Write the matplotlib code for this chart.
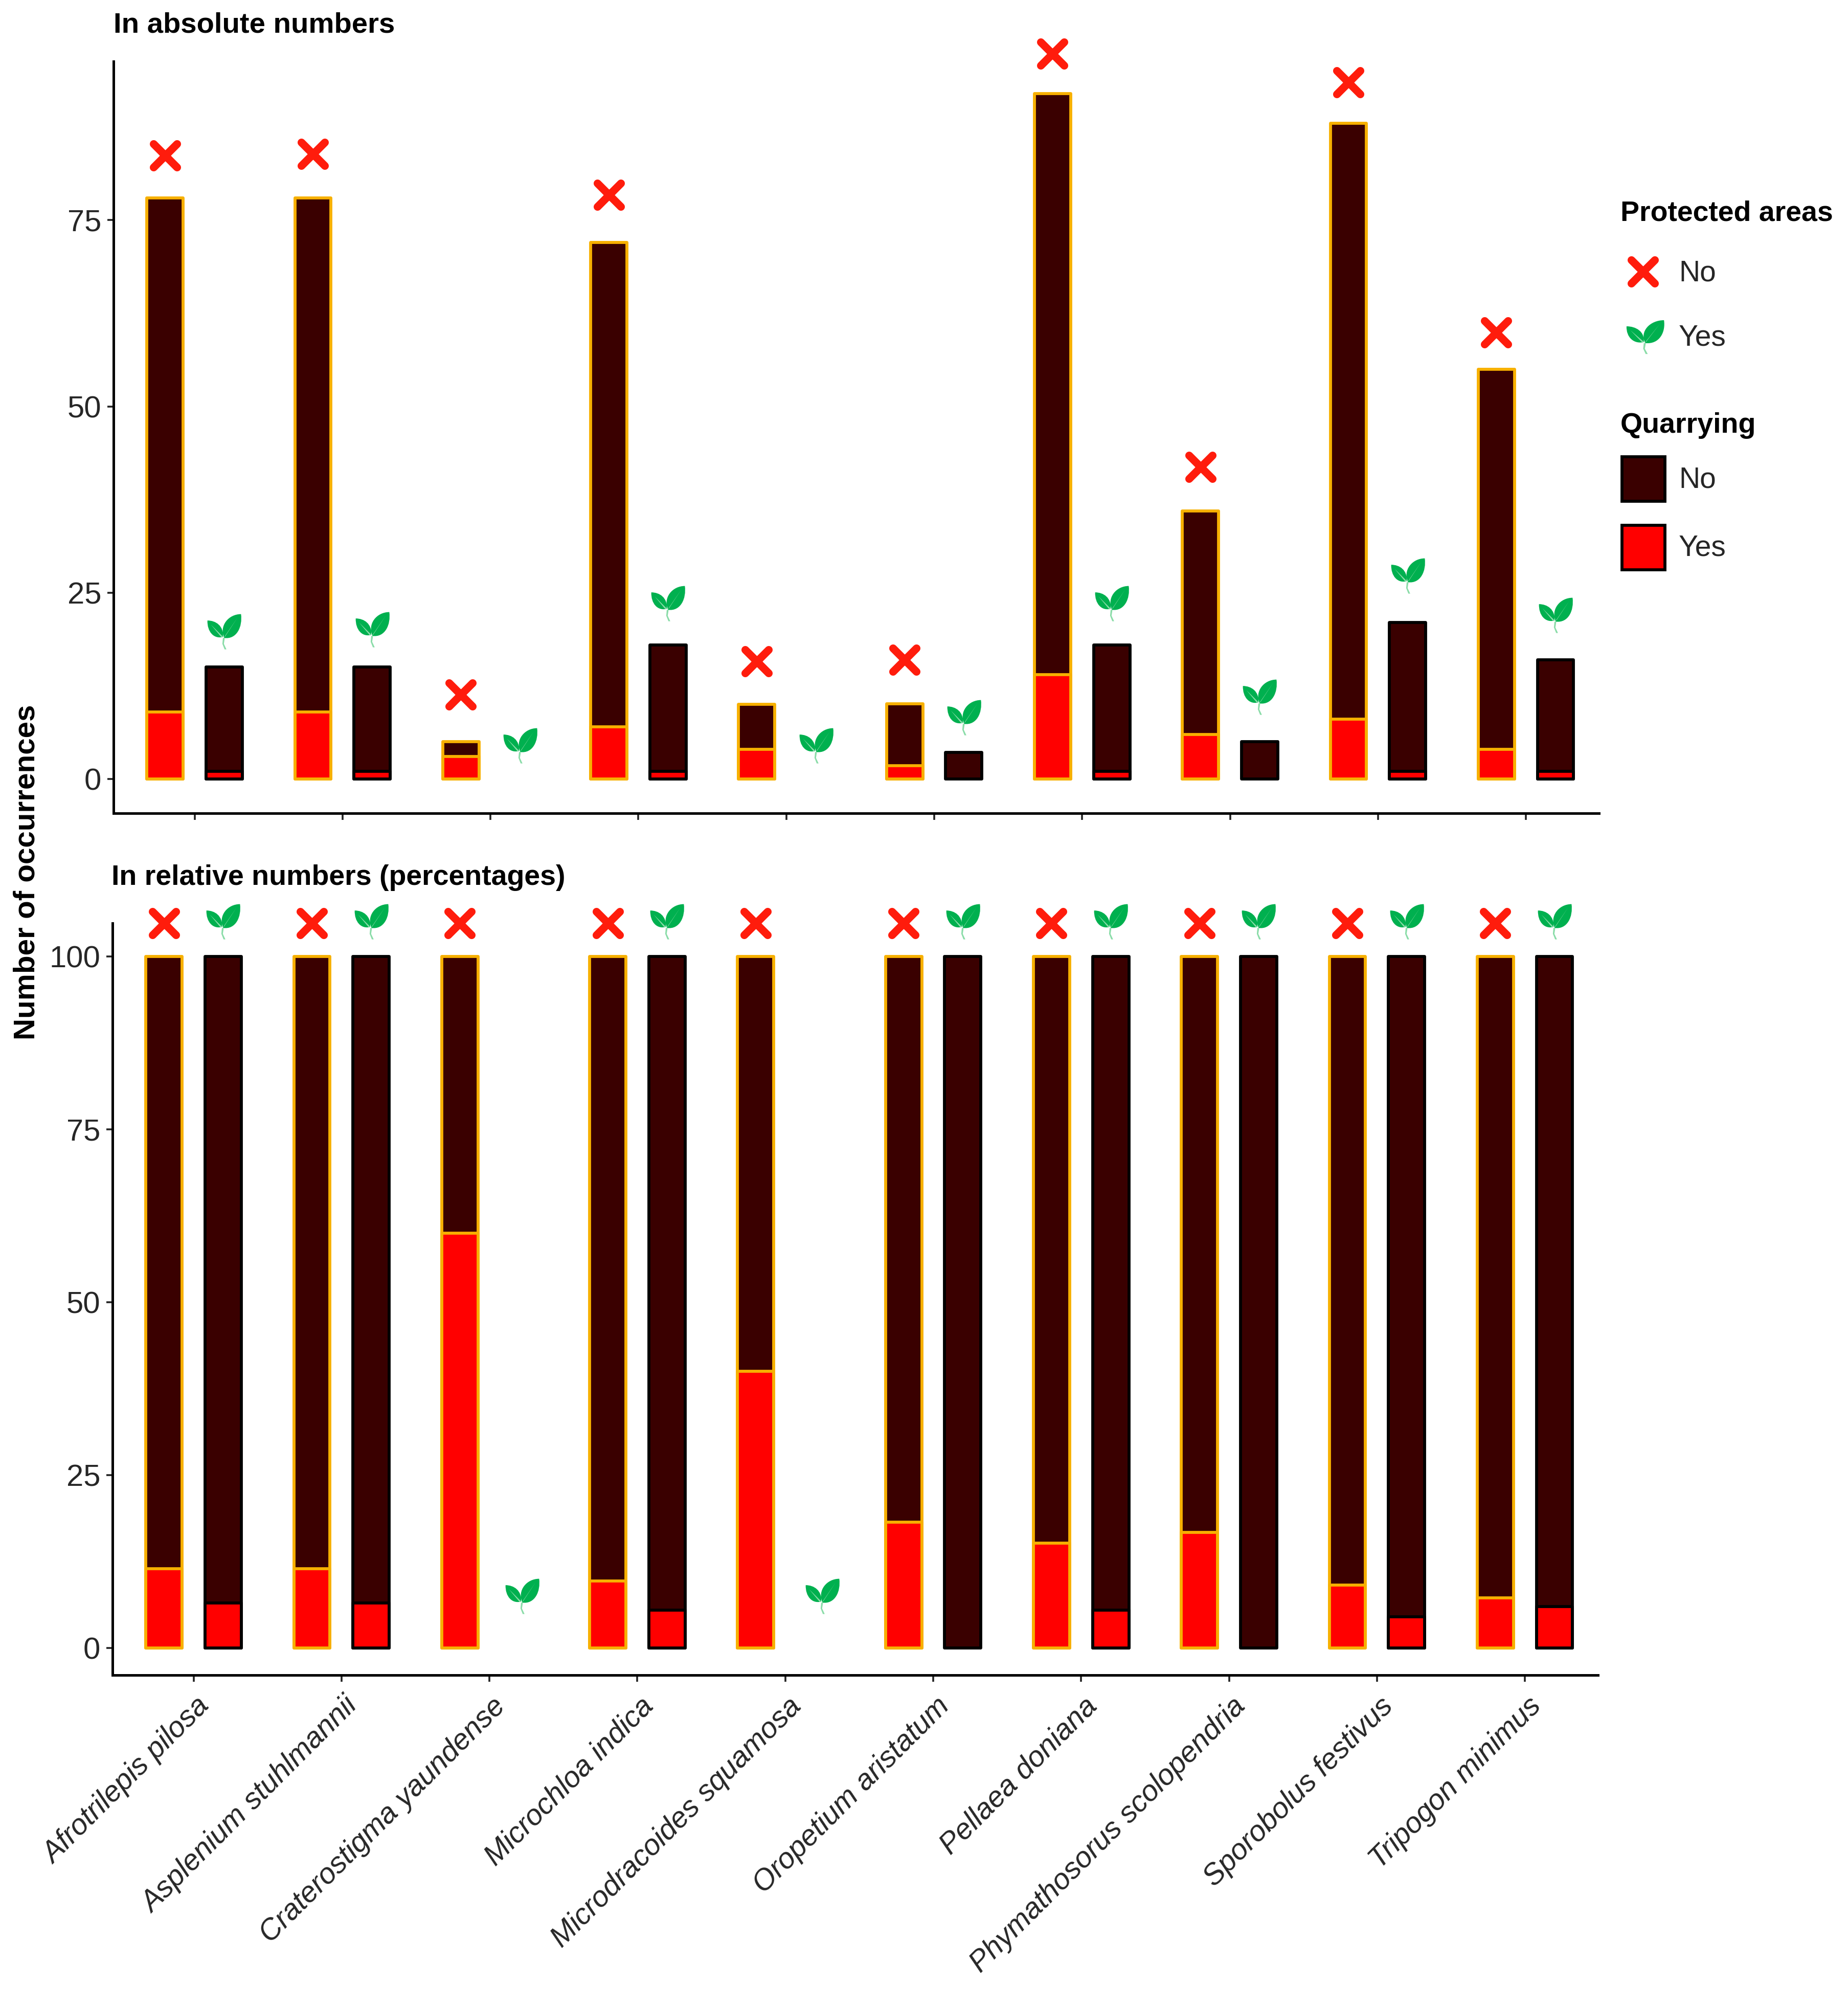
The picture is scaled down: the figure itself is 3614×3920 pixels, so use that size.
import numpy as np
import matplotlib
matplotlib.use("Agg")
import matplotlib.pyplot as plt
from matplotlib.path import Path
from matplotlib.markers import MarkerStyle
from matplotlib.patches import Rectangle
from matplotlib.transforms import Affine2D

plt.rcParams['font.family'] = ['Liberation Sans', 'DejaVu Sans']

species = ["Afrotrilepis pilosa", "Asplenium stuhlmannii", "Craterostigma yaundense",
           "Microchloa indica", "Microdracoides squamosa", "Oropetium aristatum",
           "Pellaea doniana", "Phymathosorus scolopendria", "Sporobolus festivus",
           "Tripogon minimus"]

# absolute numbers
abs_unprot_total = [78, 78, 5, 72, 10, 10.1, 92, 36, 88, 55]
abs_unprot_quarry = [9, 9, 3, 7, 4, 1.8, 14, 6, 8, 4]
abs_prot_total = [15, 15, 0, 18, 0, 3.6, 18, 5, 21, 16]
abs_prot_quarry = [1, 1, 0, 1, 0, 0, 1, 0, 1, 1]
# percentages
rel_unprot_quarry = [11.5, 11.5, 60, 9.7, 40, 18.2, 15.2, 16.7, 9.1, 7.3]
rel_prot_quarry = [6.5, 6.5, 0, 5.5, 0, 0, 5.5, 0, 4.5, 6]
rel_unprot_total = [100] * 10
rel_prot_total = [100, 100, 0, 100, 0, 100, 100, 100, 100, 100]
# heights of the status symbols
abs_cross_y = [83.7, 83.9, 11.3, 78.4, 15.8, 16, 97.3, 41.9, 93.5, 59.9]
abs_leaf_y = [19.9, 20.2, 4.6, 23.7, 4.6, 8.4, 23.7, 11.1, 27.4, 22.1]
rel_cross_y = [104.8] * 10
rel_leaf_y = [105.2, 105.2, 7.6, 105.2, 7.6, 105.2, 105.2, 105.2, 105.2, 105.2]
rel_leaf_shift = [0, 0, 0.02, 0, 0.05, 0, 0, 0, 0, 0]

DARK, RED, ORANGE, GREEN, VEIN, XRED = '#3A0000', '#FF0000', '#F7B000', '#00B04F', '#8ADCA8', '#FF1C0C'
TXT = '#262626'
W, H = 3614, 3920
FS = 40

fig = plt.figure(figsize=(W / 100, H / 100), dpi=100, facecolor='white')

def make_axes(l, r, t, b):
    return fig.add_axes([l / W, 1 - b / H, (r - l) / W, (b - t) / H])

T0, DX = 380.5, 289.3
ax1 = make_axes(222, 3127, 120, 1590)
ax2 = make_axes(220, 3125, 1805, 3275)

# symbols
cross = MarkerStyle(Path([(-1, -1), (1, 1), (-1, 1), (1, -1)],
                         [Path.MOVETO, Path.LINETO, Path.MOVETO, Path.LINETO]),
                    fillstyle='none', capstyle='round')

C4 = Path.CURVE4
leaf_body = Path(
    [(0.0, -0.42), (-0.32, 0.3), (0.25, 1.0), (1, 1), (1.1, 0.25), (0.75, -0.52), (0.0, -0.42),
     (-0.08, -0.36), (-0.62, -0.5), (-1.02, -0.05), (-1, 0.62), (-0.5, 0.62), (-0.02, 0.3), (-0.08, -0.36)],
    [Path.MOVETO, C4, C4, C4, C4, C4, C4, Path.MOVETO, C4, C4, C4, C4, C4, C4])
leaf_vein = Path(
    [(1, 1), (1, 1), (1, 1),
     (-0.02, -0.36), (0.72, 0.72), (0.05, -0.3),
     (-0.14, -0.36), (-0.72, 0.34), (-0.08, -0.3),
     (-0.07, -0.38), (0.03, -0.38), (-0.02, -0.7), (0.12, -1), (0.02, -1), (-0.1, -0.7)],
    [Path.MOVETO, Path.LINETO, Path.LINETO,
     Path.MOVETO, Path.LINETO, Path.LINETO,
     Path.MOVETO, Path.LINETO, Path.LINETO,
     Path.MOVETO, Path.LINETO, Path.LINETO, Path.LINETO, Path.LINETO, Path.LINETO])
squash = Affine2D().scale(1, 0.86)
legend_body = squash.transform_path(leaf_body)
legend_vein = squash.transform_path(leaf_vein)

def draw_cross(ax, x, y):
    ax.plot(x, y, ls='none', marker=cross, ms=33, mew=11, mec=XRED, clip_on=False, zorder=6)

def draw_leaf(ax, x, y, body=leaf_body, vein=leaf_vein, ms=52):
    ax.plot(x, y, ls='none', marker=body, ms=ms, mfc=GREEN, mec='none', clip_on=False, zorder=6)
    ax.plot(x, y, ls='none', marker=vein, ms=ms, mfc=VEIN, mec='none', clip_on=False, zorder=7)

def stacked(ax, pos, total, quarry, edge):
    total, quarry = np.array(total, float), np.array(quarry, float)
    keep = total > 0
    ax.bar(pos[keep], total[keep], width=0.245, color=DARK, edgecolor=edge, linewidth=4.2,
           joinstyle='round', zorder=3)
    keep = quarry > 0
    ax.bar(pos[keep], quarry[keep], width=0.245, color=RED, edgecolor=edge, linewidth=4.2,
           joinstyle='round', zorder=4)

idx = np.arange(len(species))
for ax, un_t, un_q, pr_t, pr_q, cy, ly, shift in [
        (ax1, abs_unprot_total, abs_unprot_quarry, abs_prot_total, abs_prot_quarry, abs_cross_y, abs_leaf_y,
         np.zeros(len(species))),
        (ax2, rel_unprot_total, rel_unprot_quarry, rel_prot_total, rel_prot_quarry, rel_cross_y, rel_leaf_y,
         np.array(rel_leaf_shift))]:
    stacked(ax, idx - 0.2, un_t, un_q, ORANGE)
    stacked(ax, idx + 0.2, pr_t, pr_q, 'black')
    draw_cross(ax, idx - 0.2, cy)
    draw_leaf(ax, idx + 0.2 + shift, ly)

ax1.set_ylim(-4.6, 96.3)
ax2.set_ylim(-3.9, 104.8)
ax1.set_xlim((222 - T0) / DX, (3127 - T0) / DX)
ax2.set_xlim((220 - T0 + 2) / DX, (3125 - T0 + 2) / DX)
ax1.set_yticks([0, 25, 50, 75])
ax2.set_yticks([0, 25, 50, 75, 100])

for ax in (ax1, ax2):
    ax.spines[['top', 'right']].set_visible(False)
    ax.spines[['left', 'bottom']].set_linewidth(3.6)
    ax.tick_params(axis='both', length=9, width=2.6, color='#222222', labelcolor=TXT,
                   labelsize=43, pad=8)
    ax.set_xticks(idx)
    ax.patch.set_alpha(0)
ax1.set_xticklabels([])
ax2.set_xticklabels(species, rotation=45, ha='right', va='top', rotation_mode='anchor',
                    style='italic', fontsize=41, color=TXT)
for lab in ax2.get_xticklabels():
    lab.set_transform(lab.get_transform() + Affine2D().translate(4, -10))

# overlay in figure pixels for titles and legend
ov = fig.add_axes([0, 0, 1, 1], zorder=10)
ov.set_xlim(0, W)
ov.set_ylim(H, 0)
ov.axis('off')

def label(x, y, s, **kw):
    ov.text(x, y, s, va='center', ha='left', **kw)

label(222, 50, "In absolute numbers", fontsize=FS + 0.5, fontweight='bold', color='black')
label(218, 1716, "In relative numbers (percentages)", fontsize=FS, fontweight='bold', color='black')
ov.text(53, 1705, "Number of occurrences", rotation=90, va='center', ha='center',
        fontsize=42, fontweight='bold', color='black')

label(3169, 417, "Protected areas", fontsize=FS, fontweight='bold', color='black')
label(3169, 832, "Quarrying", fontsize=FS, fontweight='bold', color='black')
for y, s in [(534, "No"), (661, "Yes"), (938, "No"), (1071, "Yes")]:
    label(3283, y, s, fontsize=41, color=TXT)
draw_cross(ov, [3213], [531])
draw_leaf(ov, [3217], [657], body=legend_body, vein=legend_vein, ms=58)
for y0, c in [(893, DARK), (1027, RED)]:
    ov.add_patch(Rectangle((3172, y0), 84, 87, facecolor=c, edgecolor='black', linewidth=4.2))

fig.savefig("out.png", dpi=100)
